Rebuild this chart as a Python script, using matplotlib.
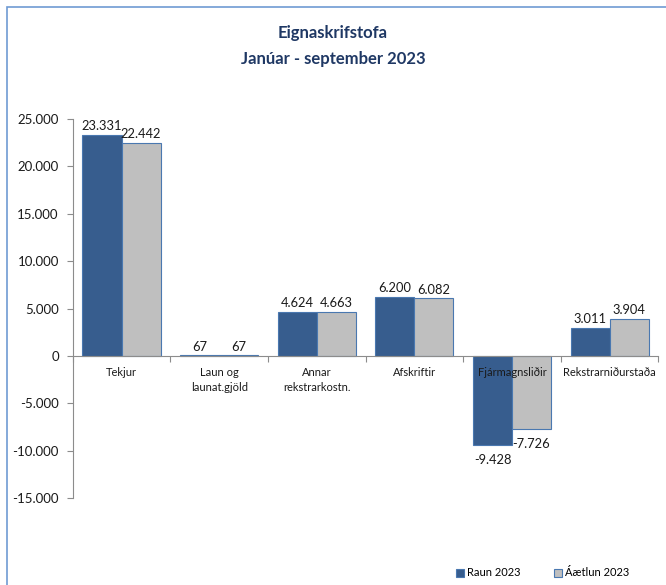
"""Eignaskrifstofa - rekstur janúar til september 2023, raun og áætlun."""
import matplotlib
matplotlib.use("Agg")
import matplotlib.pyplot as plt
from matplotlib.patches import Patch, Rectangle
from matplotlib.ticker import FixedLocator, FuncFormatter

# Data
categories = ["Tekjur", "Laun og\nlaunat.gjöld", "Annar\nrekstrarkostn.", "Afskriftir",
              "Fjármagnsliðir", "Rekstrarniðurstaða"]
raun_2023 = [23331, 67, 4624, 6200, -9428, 3011]
aaetlun_2023 = [22442, 67, 4663, 6082, -7726, 3904]
series_names = ["Raun 2023", "Áætlun 2023"]
title_lines = ["Eignaskrifstofa", "Janúar - september 2023"]
y_ticks = [-15000, -10000, -5000, 0, 5000, 10000, 15000, 20000, 25000]

plt.rcParams["font.family"] = ["Lato", "DejaVu Sans"]

DARK = "#375D8E"
GRAY = "#BFBFBF"
EDGE = "#4A78B0"
AXIS = "#8C8C8C"
TITLE = "#1F3864"


def fmt(v, pos=None):
    """Icelandic thousands separator."""
    return "{:,}".format(int(v)).replace(",", ".")


fig = plt.figure(figsize=(6.66, 5.85), dpi=100)
ax = fig.add_axes([0.1092, 0.1482, 0.8795, 0.6484])

# outer frame of the chart object (left and top edges show in the screenshot)
fig.patches.append(Rectangle((7 / 666, -0.1), 1.2, 1 - 7 / 585 + 0.1, transform=fig.transFigure,
                             fill=False, edgecolor="#6F9BD3", linewidth=1.2, clip_on=False))

x = list(range(len(categories)))
w = 0.4
bars1 = ax.bar([i - w / 2 for i in x], raun_2023, width=w, color=DARK, edgecolor=EDGE,
               linewidth=0.8, label=series_names[0], zorder=1)
bars2 = ax.bar([i + w / 2 for i in x], aaetlun_2023, width=w, color=GRAY, edgecolor=EDGE,
               linewidth=0.8, label=series_names[1], zorder=1)

# data labels
for bars, vals in ((bars1, raun_2023), (bars2, aaetlun_2023)):
    for b, v in zip(bars, vals):
        cx = b.get_x() + b.get_width() / 2
        if v >= 0:
            ax.annotate(fmt(v), (cx, v), xytext=(0, 2), textcoords="offset points",
                        ha="center", va="bottom", fontsize=9.3, color="#1a1a1a")
        else:
            ax.annotate(fmt(v), (cx, v), xytext=(0, -6), textcoords="offset points",
                        ha="center", va="top", fontsize=9.3, color="#1a1a1a")

ax.set_xlim(-0.5, len(categories) - 0.5)
ax.set_ylim(-15000, 25000)
ax.set_yticks(y_ticks)
ax.yaxis.set_major_formatter(FuncFormatter(fmt))
ax.tick_params(axis="y", length=4, color=AXIS, labelsize=9.5, pad=6, labelcolor="#1a1a1a")

# x axis on the zero line: tick marks on category boundaries, labels at centers
ax.spines["bottom"].set_position(("data", 0))
ax.xaxis.set_major_locator(FixedLocator([i + 0.5 for i in range(-1, len(categories))]))
ax.xaxis.set_major_formatter(FuncFormatter(lambda v, p: ""))
ax.xaxis.set_minor_locator(FixedLocator(x))
ax.set_xticklabels(categories, minor=True)
ax.tick_params(axis="x", which="major", length=4, color=AXIS)
ax.tick_params(axis="x", which="minor", length=0, pad=8, labelsize=8, labelcolor="#1a1a1a")
for lbl in ax.get_xticklabels(minor=True):
    lbl.set_linespacing(1.45)
    lbl.set_verticalalignment("top")

for s in ("top", "right"):
    ax.spines[s].set_visible(False)
for s in ("left", "bottom"):
    ax.spines[s].set_color(AXIS)
    ax.spines[s].set_linewidth(0.8)

fig.text(0.5, 1 - 33 / 585, title_lines[0], ha="center", va="center", fontsize=12,
         fontweight="bold", color=TITLE)
fig.text(0.5, 1 - 59 / 585, title_lines[1], ha="center", va="center", fontsize=12,
         fontweight="bold", color=TITLE)

handles = [Patch(facecolor=DARK, edgecolor=EDGE, linewidth=0.8),
           Patch(facecolor=GRAY, edgecolor=EDGE, linewidth=0.8)]
fig.legend(handles, series_names, loc="center left", bbox_to_anchor=(456 / 666, 1 - 573 / 585),
           ncol=2, frameon=False, fontsize=8, handlelength=0.7, handleheight=0.7,
           handletextpad=0.3, columnspacing=3.0, borderpad=0, borderaxespad=0)

fig.savefig("out.png", dpi=100)
